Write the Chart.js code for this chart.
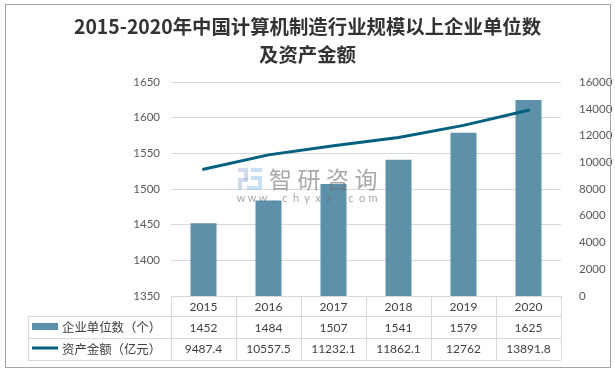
<!DOCTYPE html>
<html>
<head>
<meta charset="utf-8">
<script src="https://cdn.jsdelivr.net/npm/chart.js@4"></script>
<style>
  html, body { margin: 0; padding: 0; background: #fff; }
  #wrap { width: 615px; height: 371px; position: relative; }
  #frame { position: absolute; left: 5px; top: 4px; width: 604px; height: 362px; border: 1px solid #a6a6a6; pointer-events: none; }
</style>
</head>
<body>
<div id="wrap">
  <canvas id="chart" width="615" height="371"></canvas>
  <div id="frame"></div>
</div>
<script>
// Data
const years = ['2015', '2016', '2017', '2018', '2019', '2020'];
const units = [1452, 1484, 1507, 1541, 1579, 1625];
const assets = [9487.4, 10557.5, 11232.1, 11862.1, 12762, 13891.8];
const assetLabels = ['9487.4', '10557.5', '11232.1', '11862.1', '12762', '13891.8'];
const unitName = '企业单位数（个）';
const assetName = '资产金额（亿元）';
const titleLines = ['2015-2020年中国计算机制造行业规模以上企业单位数', '及资产金额'];

const barColor = '#5d90a9';
const lineColor = '#03607f';
const gridColor = '#d9d9d9';
const textColor = '#404040';
const numFont = 'Lato, "Noto Sans CJK SC", sans-serif';
const cjkFont = '"Noto Sans CJK SC", sans-serif';

// Table under the plot, drawn from the same arrays
const dataTable = {
    id: 'dataTable',
    afterDraw(chart) {
        const ctx = chart.ctx;
        const area = chart.chartArea;
        const x = chart.scales.x;
        const step = (area.right - area.left) / years.length;
        const rows = [area.bottom, 316, 338, 360];
        const tableLeft = 28;

        ctx.save();
        ctx.strokeStyle = gridColor;
        ctx.lineWidth = 1;
        ctx.beginPath();
        rows.forEach((y, i) => {
            ctx.moveTo(i === 0 ? area.left : tableLeft, y + 0.5);
            ctx.lineTo(area.right, y + 0.5);
        });
        for (let i = 0; i <= years.length; i++) {
            const vx = Math.round(area.left + step * i) + 0.5;
            ctx.moveTo(vx, rows[0]);
            ctx.lineTo(vx, rows[3]);
        }
        ctx.moveTo(tableLeft + 0.5, rows[1]);
        ctx.lineTo(tableLeft + 0.5, rows[3]);
        ctx.stroke();

        ctx.fillStyle = textColor;
        ctx.font = '12px ' + numFont;
        ctx.textAlign = 'center';
        ctx.textBaseline = 'middle';
        years.forEach((year, i) => {
            const cx = x.getPixelForValue(i);
            ctx.fillText(year, cx, 307);
            ctx.fillText(String(units[i]), cx, 328);
            ctx.fillText(assetLabels[i], cx, 349);
        });

        // Legend keys
        ctx.fillStyle = barColor;
        ctx.fillRect(32, 323, 26, 7);
        ctx.strokeStyle = lineColor;
        ctx.lineWidth = 3;
        ctx.beginPath();
        ctx.moveTo(32, 348);
        ctx.lineTo(58, 348);
        ctx.stroke();

        ctx.fillStyle = textColor;
        ctx.textAlign = 'left';
        ctx.font = '12.4px ' + cjkFont;
        ctx.fillText(unitName, 62, 327);
        ctx.fillText(assetName, 62, 349);
        ctx.restore();
    }
};

// Watermark
const watermark = {
    id: 'watermark',
    afterDraw(chart) {
        const ctx = chart.ctx;
        ctx.save();
        ctx.fillStyle = 'rgba(150,175,215,0.45)';
        ctx.fillRect(238, 168, 10, 4);
        ctx.fillRect(244, 172, 4, 8);
        ctx.fillRect(238, 178, 10, 4);
        ctx.fillRect(238, 182, 4, 8);
        ctx.fillStyle = 'rgba(130,190,230,0.45)';
        ctx.fillRect(251, 168, 11, 4);
        ctx.fillRect(251, 176, 11, 4);
        ctx.fillRect(258, 180, 4, 10);
        ctx.fillRect(247, 186, 11, 4);

        ctx.fillStyle = 'rgba(110,110,110,0.6)';
        ctx.textAlign = 'left';
        ctx.textBaseline = 'middle';
        ctx.font = '23px ' + cjkFont;
        ctx.letterSpacing = '5.5px';
        ctx.fillText('智研咨询', 269, 179);
        ctx.letterSpacing = '0px';
        ctx.textAlign = 'center';
        ctx.font = '11px ' + numFont;
        Array.from('www.chyxx.com').forEach((ch, i) => {
            ctx.fillText(ch, 241 + i * 11, 198);
        });
        ctx.restore();
    }
};

new Chart(document.getElementById('chart'), {
    data: {
        labels: years,
        datasets: [
            {
                type: 'line',
                label: assetName,
                data: assets,
                yAxisID: 'yRight',
                borderColor: lineColor,
                borderWidth: 3,
                pointRadius: 0,
                tension: 0,
                borderCapStyle: 'round',
                order: 1
            },
            {
                type: 'bar',
                label: unitName,
                data: units,
                yAxisID: 'yLeft',
                backgroundColor: barColor,
                barPercentage: 0.4,
                categoryPercentage: 1,
                order: 2
            }
        ]
    },
    options: {
        responsive: false,
        animation: false,
        layout: { padding: { top: 0, bottom: 75, left: 0, right: 0 } },
        plugins: {
            legend: { display: false },
            tooltip: { enabled: false },
            title: {
                display: true,
                text: titleLines,
                color: '#333333',
                font: { family: cjkFont, size: 19.4, weight: 'bold', lineHeight: 1.42 },
                padding: { top: 13, bottom: 14 }
            }
        },
        scales: {
            x: {
                offset: true,
                ticks: { display: false },
                grid: { display: false },
                border: { display: false },
                afterFit(axis) { axis.height = 0; }
            },
            yLeft: {
                position: 'left',
                min: 1350,
                max: 1650,
                ticks: {
                    stepSize: 50,
                    color: '#595959',
                    font: { family: numFont, size: 11.5 },
                    padding: 11,
                    callback: v => String(v)
                },
                grid: { color: gridColor, drawTicks: false },
                border: { display: false },
                afterFit(axis) { axis.width = 171; }
            },
            yRight: {
                position: 'right',
                min: 0,
                max: 16000,
                ticks: {
                    stepSize: 2000,
                    color: '#595959',
                    font: { family: numFont, size: 11.5 },
                    padding: 10,
                    callback: v => String(v)
                },
                grid: { display: false },
                border: { display: false },
                afterFit(axis) { axis.width = 54; }
            }
        }
    },
    plugins: [dataTable, watermark]
});
</script>
</body>
</html>
